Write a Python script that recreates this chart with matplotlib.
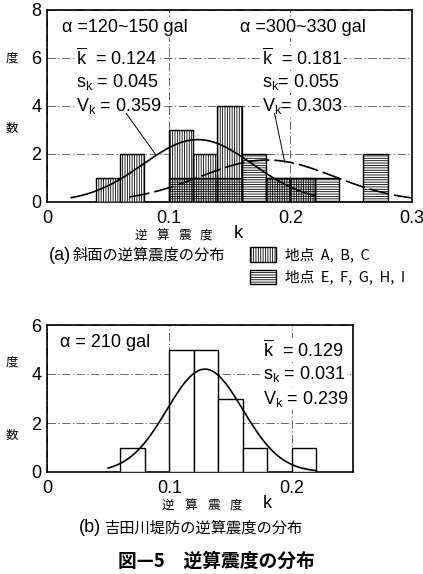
import numpy as np
import matplotlib
matplotlib.use("Agg")
import matplotlib.pyplot as plt
from matplotlib.patches import Rectangle

plt.rcParams['font.family'] = ['Liberation Sans', 'Noto Sans CJK JP', 'DejaVu Sans']
plt.rcParams['mathtext.fontset'] = 'custom'
plt.rcParams['mathtext.rm'] = 'Liberation Sans'
plt.rcParams['mathtext.it'] = 'Liberation Sans:italic'
plt.rcParams['hatch.linewidth'] = 0.6

# ---------------- data ----------------
bin_width = 0.02
bins_a = [0.04, 0.06, 0.08, 0.10, 0.12, 0.14, 0.16, 0.18, 0.20, 0.22, 0.24, 0.26]
counts_abc = [1, 2, 0, 3, 2, 4, 0, 1, 1, 0, 0, 0]      # 地点 A, B, C
counts_efghi = [0, 0, 0, 1, 1, 1, 2, 1, 1, 1, 0, 2]    # 地点 E, F, G, H, I

stats_abc = dict(mean=0.124, sd=0.045, cv=0.359, peak=2.6, x0=0.02, x1=0.22)
stats_efghi = dict(mean=0.181, sd=0.055, cv=0.303, peak=1.75, x0=0.068, x1=0.30)

bins_b = [0.06, 0.10, 0.12, 0.14, 0.16, 0.20]
counts_b = [1, 5, 5, 3, 1, 1]
stats_b = dict(mean=0.129, sd=0.031, cv=0.239, peak=4.2, x0=0.05, x1=0.22)

xticks_a = [0, 0.1, 0.2, 0.3]
xticklabels_a = ['0', '0.1', '0.2', '0.3']
yticks_a = [0, 2, 4, 6, 8]
xticks_b = [0, 0.1, 0.2]
xticklabels_b = ['0', '0.1', '0.2']
yticks_b = [0, 2, 4, 6]

W, H = 423, 574
fig = plt.figure(figsize=(W / 100, H / 100), dpi=100)


def fx(px):
    return px / W


def fy(py):
    return 1 - py / H


def curve(st):
    x = np.linspace(st['x0'], st['x1'], 200)
    return x, st['peak'] * np.exp(-(x - st['mean']) ** 2 / (2 * st['sd'] ** 2))


grid_ls = (0, (10, 3, 1.5, 3))
tick_fs = 13


def style_axes(ax, xt, xtl, yt, xlim, ylim):
    ax.set_xlim(*xlim)
    ax.set_ylim(*ylim)
    ax.set_xticks(xt)
    ax.set_xticklabels(xtl)
    ax.set_yticks(yt)
    ax.set_yticklabels([str(v) for v in yt])
    ax.tick_params(length=0, labelsize=tick_fs)
    ax.tick_params(axis='x', pad=5.5)
    ax.tick_params(axis='y', pad=4)
    for s in ax.spines.values():
        s.set_linewidth(1.2)
    ax.grid(True, linestyle=grid_ls, linewidth=0.6, color='0.3')
    ax.set_axisbelow(True)


# ---------------- panel (a) ----------------
axa = fig.add_axes([fx(47), fy(202), fx(412 - 47), (202 - 10) / H])
style_axes(axa, xticks_a, xticklabels_a, yticks_a, (0, 0.3), (0, 8))

axa.bar(bins_a, counts_efghi, width=bin_width, align='edge', color='white',
        edgecolor='none', zorder=2)
axa.bar(bins_a, counts_abc, width=bin_width, align='edge', facecolor='white',
        edgecolor='black', hatch='|||||||', linewidth=1.0, zorder=3)
axa.bar(bins_a, counts_efghi, width=bin_width, align='edge', facecolor='none',
        edgecolor='black', hatch='-------', linewidth=1.0, zorder=4)

xc, yc = curve(stats_abc)
axa.plot(xc, yc, color='black', lw=1.2, zorder=5)
xc, yc = curve(stats_efghi)
axa.plot(xc, yc, color='black', lw=1.2, linestyle=(0, (12, 3)), zorder=5)

bb = dict(facecolor='white', edgecolor='none', pad=1)
tfs = 13
axa.text(0.012, 7.25, r'α =120~150 gal', fontsize=13,
         va='center', ha='left', bbox=bb, zorder=6)
axa.text(0.1586, 7.25, r'α =300~330 gal', fontsize=13,
         va='center', ha='left', bbox=bb, zorder=6)

axa.text(0.024, 6.0, r'$\overline{\mathrm{k}}$  = %.3f' % stats_abc['mean'], fontsize=tfs,
         va='center', ha='left', bbox=bb, zorder=6)
axa.text(0.024, 5.0, r's$_\mathrm{k}$ = %.3f' % stats_abc['sd'], fontsize=tfs,
         va='center', ha='left', bbox=bb, zorder=6)
axa.text(0.024, 4.0, r'V$_\mathrm{k}$ = %.3f' % stats_abc['cv'], fontsize=tfs,
         va='center', ha='left', bbox=bb, zorder=6)

axa.text(0.1767, 6.0, r'$\overline{\mathrm{k}}$  = %.3f' % stats_efghi['mean'], fontsize=tfs,
         va='center', ha='left', bbox=bb, zorder=6)
axa.text(0.1767, 5.0, r's$_\mathrm{k}$= %.3f' % stats_efghi['sd'], fontsize=tfs,
         va='center', ha='left', bbox=bb, zorder=6)
axa.text(0.1767, 4.0, r'V$_\mathrm{k}$= %.3f' % stats_efghi['cv'], fontsize=tfs,
         va='center', ha='left', bbox=bb, zorder=6)

axa.annotate('', xy=(0.089, 2.0), xytext=(0.065, 3.7),
             arrowprops=dict(arrowstyle='-', lw=0.7, color='black', shrinkA=0, shrinkB=0), zorder=6)
axa.annotate('', xy=(0.1955, 1.63), xytext=(0.187, 3.7),
             arrowprops=dict(arrowstyle='-', lw=0.7, color='black', shrinkA=0, shrinkB=0), zorder=6)

# ---------------- panel (b) ----------------
axb = fig.add_axes([fx(47), fy(472), fx(353 - 47), (472 - 325) / H])
style_axes(axb, xticks_b, xticklabels_b, yticks_b, (0, 0.25), (0, 6))
axb.bar(bins_b, counts_b, width=bin_width, align='edge', facecolor='white',
        edgecolor='black', linewidth=1.0, zorder=3)
xc, yc = curve(stats_b)
axb.plot(xc, yc, color='black', lw=1.2, zorder=5)

axb.text(0.0107, 5.27, r'α = 210 gal', fontsize=tfs, va='center', ha='left', zorder=6)
axb.text(0.1767, 4.98, r'$\overline{\mathrm{k}}$  = %.3f' % stats_b['mean'], fontsize=tfs,
         va='center', ha='left', bbox=bb, zorder=6)
axb.text(0.1767, 4.0, r's$_\mathrm{k}$ = %.3f' % stats_b['sd'], fontsize=tfs,
         va='center', ha='left', bbox=bb, zorder=6)
axb.text(0.1767, 2.98, r'V$_\mathrm{k}$ = %.3f' % stats_b['cv'], fontsize=tfs,
         va='center', ha='left', bbox=bb, zorder=6)

# ---------------- figure texts ----------------
cjk = ['Noto Sans CJK JP', 'DejaVu Sans']
fig.text(fx(12), fy(58), '度', fontsize=9, family=cjk, ha='center', va='center')
fig.text(fx(12), fy(128), '数', fontsize=9, family=cjk, ha='center', va='center')
fig.text(fx(12), fy(362), '度', fontsize=9, family=cjk, ha='center', va='center')
fig.text(fx(12), fy(435), '数', fontsize=9, family=cjk, ha='center', va='center')

xlabel_chars = ['逆', '算', '震', '度']
for i, ch in enumerate(xlabel_chars):
    fig.text(fx(141 + 21.7 * i), fy(235), ch, fontsize=9, family=cjk, ha='center', va='center')
fig.text(fx(238), fy(234), 'k', fontsize=13, ha='center', va='center')
for i, ch in enumerate(xlabel_chars):
    fig.text(fx(168 + 22.7 * i), fy(505), ch, fontsize=9, family=cjk, ha='center', va='center')
fig.text(fx(267), fy(504), 'k', fontsize=13, ha='center', va='center')

fig.text(fx(49), fy(255), '(a)', fontsize=13, ha='left', va='center')
fig.text(fx(73), fy(255), '斜面の逆算震度の分布', fontsize=11, family=cjk, ha='left', va='center')

fig.patches.append(Rectangle((fx(250), fy(262)), fx(26), 15 / H, transform=fig.transFigure,
                             facecolor='white', edgecolor='black', hatch='|||||||', lw=1.0))
fig.patches.append(Rectangle((fx(250), fy(284)), fx(26), 14 / H, transform=fig.transFigure,
                             facecolor='white', edgecolor='black', hatch='-------', lw=1.0))
fig.text(fx(285), fy(255), '地点  A,  B,  C', fontsize=10.5, family=cjk, ha='left', va='center')
fig.text(fx(285), fy(277), '地点  E,  F,  G,  H,  I', fontsize=10.5, family=cjk, ha='left', va='center')

fig.text(fx(79), fy(528), '(b)', fontsize=13, ha='left', va='center')
fig.text(fx(104), fy(528), '吉田川堤防の逆算震度の分布', fontsize=11, family=cjk, ha='left', va='center')

fig.text(fx(216), fy(561), '図—5　逆算震度の分布', fontsize=13.5, family=cjk, weight='bold',
         ha='center', va='center')

fig.savefig('out.png', dpi=100)
